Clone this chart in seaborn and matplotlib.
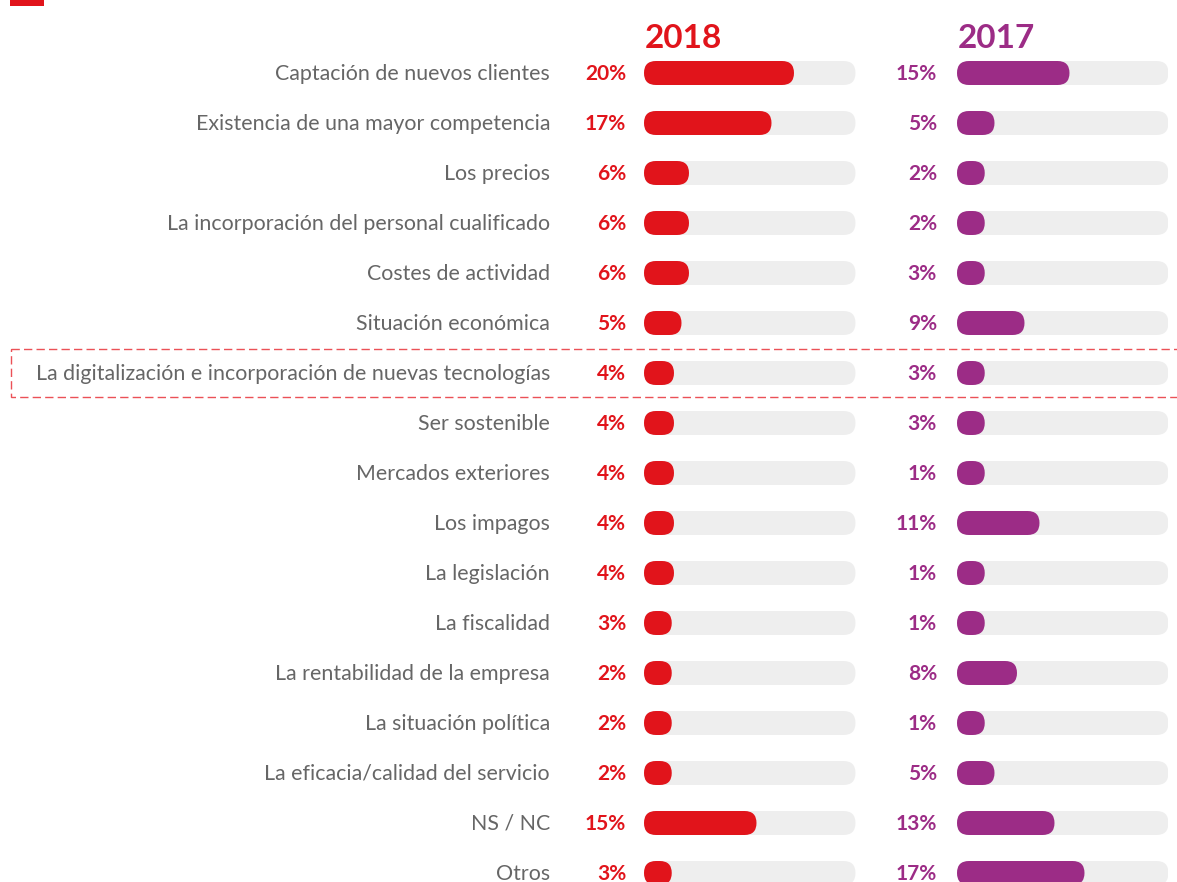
import pandas as pd
import matplotlib.pyplot as plt
import seaborn as sns
from matplotlib.patches import FancyBboxPatch, Rectangle

# data
categories = [
    "Captación de nuevos clientes",
    "Existencia de una mayor competencia",
    "Los precios",
    "La incorporación del personal cualificado",
    "Costes de actividad",
    "Situación económica",
    "La digitalización e incorporación de nuevas tecnologías",
    "Ser sostenible",
    "Mercados exteriores",
    "Los impagos",
    "La legislación",
    "La fiscalidad",
    "La rentabilidad de la empresa",
    "La situación política",
    "La eficacia/calidad del servicio",
    "NS / NC",
    "Otros",
]
values_2018 = [20, 17, 6, 6, 6, 5, 4, 4, 4, 4, 4, 3, 2, 2, 2, 15, 3]
values_2017 = [15, 5, 2, 2, 3, 9, 3, 3, 1, 11, 1, 1, 8, 1, 5, 13, 17]
years = ["2018", "2017"]
highlight = "La digitalización e incorporación de nuevas tecnologías"

RED = "#E1141B"
PURPLE = "#9C2C86"
TRACK = "#EEEEEE"
GREY = "#666666"
TRACK_MAX = 28.2
MIN_W = 3.7

W, H = 1177, 882
sns.set_style("white")
plt.rcParams["font.family"] = ["Lato", "DejaVu Sans"]

fig = plt.figure(figsize=(W / 100, H / 100), dpi=100)

df = pd.DataFrame({"cat": categories, "2018": values_2018, "2017": values_2017})
df["track"] = TRACK_MAX

row0, row_h = 73, 50  # pixel centre of first row, row spacing
ylim = ((H - row0) / row_h, -row0 / row_h)


def round_bars(ax, px_x, px_y):
    # swap seaborn's rectangles for capsule shapes
    rects = list(ax.patches)
    for p in rects:
        x0, y0, w, h = p.get_x(), p.get_y(), p.get_width(), p.get_height()
        fc = p.get_facecolor()
        z = p.get_zorder()
        p.remove()
        r = (h / 2) * px_y / px_x
        w = max(w, MIN_W)
        ax.add_patch(FancyBboxPatch((x0, y0), w, h,
                                    boxstyle=f"round,pad=0,rounding_size={r}",
                                    mutation_aspect=px_x / px_y,
                                    fc=fc, ec="none", zorder=z))


panels = [("2018", 644, 212, RED, 626), ("2017", 957, 211, PURPLE, 937)]
for year, left, width, color, lab_x in panels:
    ax = fig.add_axes([left / W, 0, width / W, 1])
    sns.barplot(data=df, x="track", y="cat", color=TRACK, width=0.48,
                saturation=1, ax=ax, zorder=1)
    sns.barplot(data=df, x=year, y="cat", color=color, width=0.48,
                saturation=1, ax=ax, zorder=2)
    ax.set_xlim(0, width / 7.5)
    ax.set_ylim(*ylim)
    ax.axis("off")
    round_bars(ax, 7.5, row_h)
    ax.text(0.1, -0.68, year, fontsize=24, fontweight="bold", color=color,
            ha="left", va="center")
    for i, v in enumerate(df[year]):
        ax.text((lab_x - left) / 7.5, i + 0.02, f"{v}%", fontsize=15,
                fontweight="bold", color=color, ha="right", va="center")

# category labels
lab_ax = fig.add_axes([0, 0, 1, 1])
lab_ax.set_xlim(0, W)
lab_ax.set_ylim(*ylim)
lab_ax.axis("off")
for i, c in enumerate(categories):
    lab_ax.text(550, i + 0.02, c, fontsize=15.4, color=GREY, ha="right", va="center")

# dashed highlight box
hi = categories.index(highlight)
lab_ax.add_patch(Rectangle((11, hi - 0.48), W, 0.96, fill=False,
                           ec="#E8323A", lw=1, ls=(0, (6, 3)), alpha=0.85))

# small red mark in the corner
lab_ax.add_patch(Rectangle((10, -row0 / row_h), 34, 6 / row_h, fc=RED, ec="none"))

fig.savefig("out.png", dpi=100)
